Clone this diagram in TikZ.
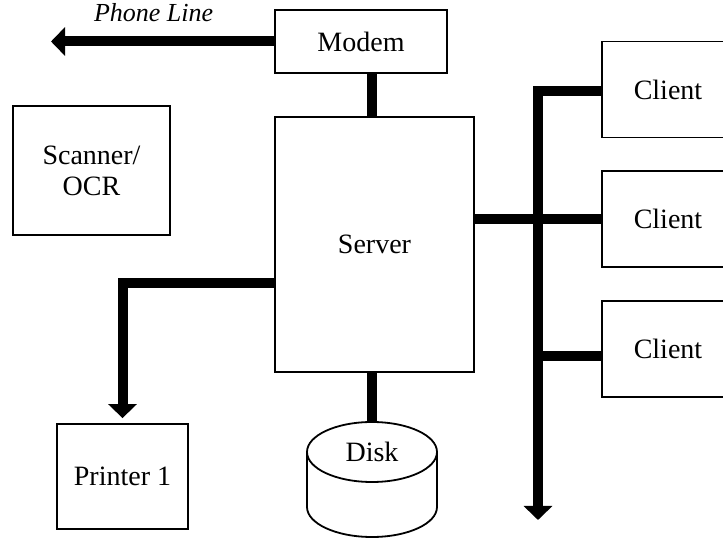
\documentclass[tikz,border=0pt]{standalone}
\usepackage{fontspec}
\setmainfont{Liberation Serif}
\usetikzlibrary{arrows.meta, positioning, calc}

\begin{document}
\begin{tikzpicture}[
  x=1pt, y=1pt,
  every node/.style = {font=\fontsize{28}{31}\selectfont},
  block/.style = {draw, line width=1.8pt, inner sep=0pt, align=center},
  client/.style = {block, minimum width=132pt, minimum height=96pt},
  bus/.style = {line width=10pt},
  arrow/.style = {bus, -{Triangle[width=28pt, length=14pt]}},
  node distance=32pt
]
\useasboundingbox (0,0) rectangle (723,538);

% Modem and Server
\node[block, minimum width=172pt, minimum height=63pt] (modem) at (361,496.5) {Modem};
\node[block, minimum width=199pt, minimum height=255pt] (server) at (374.5,293.5) {Server};

% Scanner and Printer
\node[block, minimum width=157pt, minimum height=129pt] (scanner) at (91.5,367.5) {Scanner/\\OCR};
\node[block, minimum width=131pt, minimum height=105pt] (printer) at (122.5,61.5) {Printer 1};

% Clients
\node[client] (client1) at (668,448.5) {Client};
\node[client, below=of client1] (client2) {Client};
\node[client, below=of client2] (client3) {Client};

% Disk
\node (disk) at (372,86) {Disk};
\draw[line width=1.8pt] (disk.center) ellipse [x radius=65, y radius=30];
\draw[line width=1.8pt] ($(disk.center)+(-65,0)$) -- ++(0,-55)
  arc[start angle=180, end angle=360, x radius=65, y radius=30] -- ++(0,55);
\coordinate (disktop) at ($(disk.center)+(0,30)$);

% Phone line out of the modem
\coordinate (phoneend) at (51,496.5);
\draw[arrow] (modem.west) --
  node[pos=0.54, above, inner sep=0pt, yshift=14.5pt,
       font=\fontsize{26}{30}\selectfont\itshape] {Phone Line} (phoneend);

% Server links
\draw[bus] (server.north -| 372,0) -- (modem.south -| 372,0);
\draw[bus] (server.south -| disktop) -- (disktop);

% Printer link
\coordinate (printertip) at ($(printer.north)+(0,5)$);
\draw[arrow] ($(server.west)+(0,-38.5)$) -| (printertip);

% Network bus
\coordinate (busend) at (538,18);
\draw[arrow] ($(client1.west)+(0,-1.5)$) -| (busend);
\draw[bus] (server.east |- client2.west) -- (client2.west);
\draw[bus] ($(client3.west)+(0,-7)$) -- ($(busend |- client3.west)+(0,-7)$);

\end{tikzpicture}
\end{document}
